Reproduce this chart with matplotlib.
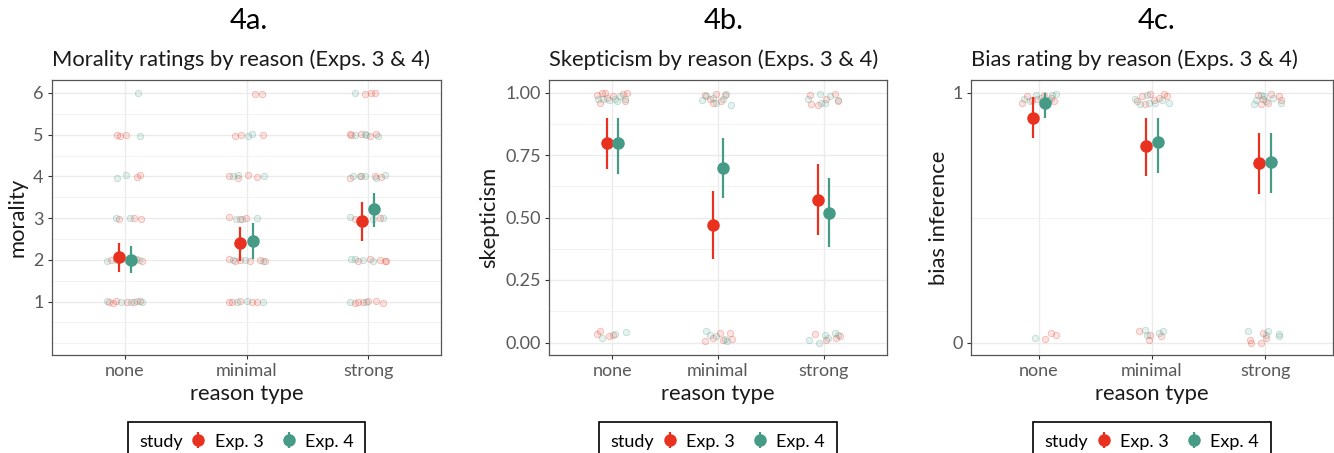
import matplotlib
matplotlib.use("Agg")
import matplotlib.pyplot as plt
from matplotlib.lines import Line2D
from matplotlib.offsetbox import HPacker

plt.rcParams['font.family'] = ['Lato', 'DejaVu Sans']

reasons = ["none", "minimal", "strong"]
studies = ["Exp. 3", "Exp. 4"]

# raw responses per reason: (jitter, value)
mor_e3 = {
    "none": [(-0.063, 5.0), (-0.041, 4.98), (0.005, 5.0), (0.096, 3.99), (0.128, 4.03),
             (-0.05, 2.99), (0.074, 3.01), (0.134, 2.98), (-0.117, 1.99), (-0.036, 2.02),
             (0.087, 2.01), (0.142, 1.97), (-0.131, 0.99), (-0.1, 0.97), (-0.077, 1.02),
             (0.02, 1.0), (0.074, 0.98), (0.128, 1.02)],
    "minimal": [(0.066, 5.97), (0.126, 5.97), (-0.098, 4.97), (-0.046, 5.0), (0.139, 4.99),
                (-0.148, 4.0), (-0.074, 3.97), (0.016, 4.03), (0.085, 3.99), (-0.148, 3.02),
                (-0.057, 2.99), (-0.003, 3.01), (-0.148, 2.01), (-0.093, 1.98), (-0.057, 2.0),
                (0.03, 1.98), (0.107, 2.0), (0.153, 1.98), (-0.148, 0.98), (-0.12, 1.0),
                (-0.052, 1.01), (0.044, 0.98), (0.085, 1.0)],
    "strong": [(-0.027, 5.98), (0.027, 6.01), (0.055, 5.99), (-0.15, 5.01), (-0.137, 5.0),
               (-0.055, 5.01), (0.014, 4.98), (0.068, 5.02), (-0.15, 3.97), (-0.055, 4.01),
               (0.055, 4.0), (0.109, 3.99), (-0.109, 2.98), (0.096, 3.01), (-0.082, 1.98),
               (0.014, 2.01), (0.096, 1.99), (0.137, 1.98), (0.15, 1.98), (-0.109, 0.97),
               (-0.082, 0.98), (-0.041, 1.0), (0.0, 1.02), (0.068, 1.01), (0.123, 0.97)],
}
mor_e4 = {
    "none": [(0.11, 5.99), (0.12, 4.97), (-0.063, 3.95), (0.005, 4.03), (-0.077, 3.0),
             (0.038, 3.0), (-0.15, 1.98), (-0.077, 2.0), (0.02, 2.0), (0.06, 2.02),
             (0.115, 2.0), (-0.145, 1.01), (-0.036, 1.0), (0.046, 0.99), (0.1, 1.01), (0.142, 1.0)],
    "minimal": [(0.016, 4.98), (0.044, 5.02), (-0.107, 4.02), (-0.066, 4.03), (0.148, 4.01),
                (-0.085, 2.98), (-0.038, 2.99), (0.085, 3.01), (-0.107, 1.99), (-0.011, 1.99),
                (0.139, 1.97), (-0.079, 1.0), (0.003, 1.01), (0.139, 0.99)],
    "strong": [(-0.109, 6.0), (-0.109, 5.0), (-0.027, 5.02), (-0.014, 4.99), (0.082, 4.98),
               (-0.123, 4.01), (-0.068, 4.0), (-0.027, 4.02), (0.068, 3.97), (0.137, 4.04),
               (-0.15, 3.03), (-0.041, 2.99), (0.041, 2.98), (0.123, 3.0), (-0.137, 2.02),
               (-0.109, 2.02), (-0.041, 1.99), (0.041, 1.98), (-0.15, 1.0), (-0.014, 0.99)],
}
skep_e3 = {
    "none": [(-0.148, 0.99), (-0.116, 0.96), (-0.10, 1.0), (-0.053, 0.98), (0.009, 0.985),
             (0.104, 0.995), (0.135, 1.0), (0.119, 0.965), (-0.069, 1.0),
             (-0.148, 0.035), (-0.116, 0.045), (-0.028, 0.025), (0.009, 0.03)],
    "minimal": [(-0.126, 0.99), (-0.079, 0.975), (-0.016, 0.995), (0.031, 0.965), (0.063, 0.99),
                (-0.047, 0.96), (-0.126, 0.005), (-0.047, 0.02), (0.016, 0.04), (0.047, 0.01),
                (0.11, 0.04), (0.135, 0.015)],
    "strong": [(-0.132, 0.99), (-0.116, 0.955), (-0.053, 0.95), (0.025, 0.975), (0.104, 0.995),
               (0.135, 0.965), (-0.085, 0.035), (0.025, 0.01), (0.119, 0.02), (0.151, 0.025)],
}
skep_e4 = {
    "none": [(-0.132, 0.975), (-0.085, 0.975), (-0.028, 0.97), (0.025, 0.975), (0.072, 0.985),
             (0.041, 0.965), (0.119, 0.975), (-0.10, 0.02), (0.025, 0.035), (0.126, 0.043)],
    "minimal": [(-0.148, 0.97), (-0.11, 0.985), (-0.047, 0.98), (-0.016, 0.96), (0.047, 0.975),
                (0.079, 0.995), (0.126, 0.95), (-0.116, 0.045), (-0.079, 0.03), (-0.016, 0.025),
                (0.063, 0.015), (0.085, 0.005)],
    "strong": [(-0.148, 0.975), (-0.038, 0.995), (0.009, 0.96), (0.057, 0.985), (0.135, 0.97),
               (-0.022, 0.96), (-0.138, 0.01), (-0.044, 0.0), (0.009, 0.03), (0.041, 0.02),
               (0.104, 0.04), (0.135, 0.03)],
}
bias_e3 = {
    "none": [(-0.147, 0.96), (-0.109, 0.985), (-0.059, 0.97), (-0.015, 0.975), (0.044, 0.99),
             (0.103, 0.98), (0.132, 0.965), (0.053, 0.015), (0.109, 0.04), (0.15, 0.032)],
    "minimal": [(-0.132, 0.965), (-0.088, 0.985), (-0.021, 0.995), (0.015, 0.97), (0.059, 0.98),
                (0.103, 0.995), (0.132, 0.985), (-0.059, 0.955), (-0.117, 0.045), (-0.029, 0.01),
                (-0.015, 0.03), (0.079, 0.025)],
    "strong": [(-0.065, 0.99), (-0.021, 0.975), (0.023, 0.96), (0.053, 0.995), (0.126, 0.985),
               (0.141, 0.97), (-0.035, 0.955), (-0.138, 0.01), (-0.123, 0.0), (-0.035, 0.0),
               (-0.021, 0.04), (0.009, 0.02)],
}
bias_e4 = {
    "none": [(-0.132, 0.975), (-0.079, 0.965), (-0.029, 0.99), (0.015, 0.98), (0.088, 0.97),
             (0.117, 0.99), (0.147, 0.995), (-0.038, 0.02)],
    "minimal": [(-0.147, 0.975), (-0.103, 0.955), (-0.029, 0.96), (0.029, 0.96), (0.088, 0.97),
                (0.147, 0.96), (-0.044, 0.99), (-0.059, 0.05), (-0.044, 0.03), (0.059, 0.04),
                (0.097, 0.045)],
    "strong": [(-0.094, 0.955), (-0.079, 0.97), (-0.006, 0.985), (0.009, 0.965), (0.067, 0.98),
               (0.141, 0.96), (-0.035, 0.99), (-0.152, 0.045), (0.009, 0.03), (0.023, 0.045),
               (0.126, 0.035), (0.126, 0.025)],
}

# means and 95% intervals by reason
mor_mean_e3 = [2.07, 2.40, 2.93]
mor_lo_e3 = [1.72, 1.97, 2.44]
mor_hi_e3 = [2.40, 2.79, 3.39]
mor_mean_e4 = [2.00, 2.45, 3.21]
mor_lo_e4 = [1.68, 2.01, 2.79]
mor_hi_e4 = [2.33, 2.89, 3.61]

skep_mean_e3 = [0.80, 0.47, 0.57]
skep_lo_e3 = [0.694, 0.335, 0.43]
skep_hi_e3 = [0.90, 0.608, 0.715]
skep_mean_e4 = [0.80, 0.70, 0.52]
skep_lo_e4 = [0.676, 0.58, 0.382]
skep_hi_e4 = [0.90, 0.82, 0.658]

bias_mean_e3 = [0.90, 0.787, 0.718]
bias_lo_e3 = [0.818, 0.668, 0.593]
bias_hi_e3 = [0.984, 0.90, 0.838]
bias_mean_e4 = [0.96, 0.802, 0.722]
bias_lo_e4 = [0.90, 0.68, 0.60]
bias_hi_e4 = [0.997, 0.90, 0.84]

RED = '#E8321F'
GREEN = '#459B86'
colors = [RED, GREEN]
dodge = [-0.05, 0.05]

W, H = 1334, 453
fig = plt.figure(figsize=(W / 100, H / 100), dpi=100)


def px_axes(left, right, top=80, bottom=355):
    return fig.add_axes([left / W, 1 - bottom / H, (right - left) / W, (bottom - top) / H])


def draw_panel(ax, raw, means, los, his, ylim, yticks, ylabels, minor):
    ax.set_xlim(-0.6, 2.6)
    ax.set_ylim(*ylim)
    ax.set_xticks(range(len(reasons)))
    ax.set_xticklabels(reasons)
    ax.set_yticks(yticks)
    ax.set_yticklabels(ylabels)
    ax.set_yticks(minor, minor=True)
    ax.set_axisbelow(True)
    ax.grid(which='major', color='#EBEBEB', lw=1.0)
    ax.grid(which='minor', axis='y', color='#F2F2F2', lw=0.7)
    ax.tick_params(which='minor', length=0)
    ax.tick_params(which='major', length=3, width=0.8, color='#333333',
                   labelsize=13, labelcolor='#595959', pad=3)
    for s in ax.spines.values():
        s.set_color('#555555')
        s.set_linewidth(0.9)
    for pts, c in zip(raw, colors):
        for i, r in enumerate(reasons):
            xs = [i + dx for dx, v in pts[r]]
            ys = [v for dx, v in pts[r]]
            ax.plot(xs, ys, 'o', ms=4.6, mfc=matplotlib.colors.to_rgba(c, 0.13),
                    mec=matplotlib.colors.to_rgba(c, 0.3), mew=0.6, zorder=2)
    for m, lo, hi, c, d in zip(means, los, his, colors, dodge):
        xs = [i + d for i in range(len(reasons))]
        ax.vlines(xs, lo, hi, color=c, lw=1.6, zorder=3)
        ax.plot(xs, m, 'o', ms=8, color=c, zorder=4)


def add_legend(ax, top):
    handles = [(Line2D([], [], marker='|', ms=11, mew=1.6, color=c, ls=''),
                Line2D([], [], marker='o', ms=8, color=c, ls='')) for c in colors]
    leg = ax.legend(handles, studies, title='study', loc='upper center',
                    bbox_to_anchor=(0.5, top), ncol=2, frameon=True, fancybox=False,
                    edgecolor='black', framealpha=1, fontsize=13, title_fontsize=13,
                    handlelength=0.8, handletextpad=0.5, columnspacing=1.0,
                    borderpad=0.65, borderaxespad=0)
    leg.get_frame().set_linewidth(1.2)
    old = leg._legend_box
    box = HPacker(pad=old.pad, sep=6, align='center',
                  children=[leg._legend_title_box, leg._legend_handle_box])
    box.set_figure(fig)
    box.axes = ax
    box.set_offset(leg._findoffset)
    leg._legend_box = box


panels = [
    dict(l=52, r=441, label='4a.', lx=249,
         title='Morality ratings by reason (Exps. 3 & 4)', ylab='morality', ylx=28,
         raw=[mor_e3, mor_e4], means=[mor_mean_e3, mor_mean_e4],
         los=[mor_lo_e3, mor_lo_e4], his=[mor_hi_e3, mor_hi_e4],
         ylim=(-0.28, 6.31), yt=[1, 2, 3, 4, 5, 6], yl=['1', '2', '3', '4', '5', '6'],
         minor=[0, 0.5, 1.5, 2.5, 3.5, 4.5, 5.5]),
    dict(l=549, r=887, label='4b.', lx=724,
         title='Skepticism by reason (Exps. 3 & 4)', ylab='skepticism', ylx=499,
         raw=[skep_e3, skep_e4], means=[skep_mean_e3, skep_mean_e4],
         los=[skep_lo_e3, skep_lo_e4], his=[skep_hi_e3, skep_hi_e4],
         ylim=(-0.05, 1.05), yt=[0, 0.25, 0.5, 0.75, 1.0],
         yl=['0.00', '0.25', '0.50', '0.75', '1.00'], minor=[0.125, 0.375, 0.625, 0.875]),
    dict(l=971, r=1333, label='4c.', lx=1157,
         title='Bias rating by reason (Exps. 3 & 4)', ylab='bias inference', ylx=949,
         raw=[bias_e3, bias_e4], means=[bias_mean_e3, bias_mean_e4],
         los=[bias_lo_e3, bias_lo_e4], his=[bias_hi_e3, bias_hi_e4],
         ylim=(-0.05, 1.05), yt=[0, 1], yl=['0', '1'], minor=[0.5]),
]

for p in panels:
    ax = px_axes(p['l'], p['r'])
    draw_panel(ax, p['raw'], p['means'], p['los'], p['his'], p['ylim'], p['yt'], p['yl'], p['minor'])
    ax.set_title(p['title'], loc='left', fontsize=15.8, color='#1A1A1A', pad=10)
    ax.set_xlabel('reason type', fontsize=15.8, color='#1A1A1A')
    ax.xaxis.set_label_coords(0.5, (355 - 384) / 275)
    ax.set_ylabel(p['ylab'], fontsize=15.8, color='#1A1A1A')
    ax.yaxis.set_label_coords((p['ylx'] - p['l']) / (p['r'] - p['l']), 0.5)
    fig.text(p['lx'] / W, 1 - 21 / H, p['label'], fontsize=21, ha='center', va='center')
    add_legend(ax, (355 - 422) / 275)

fig.savefig('out.png', dpi=100)
